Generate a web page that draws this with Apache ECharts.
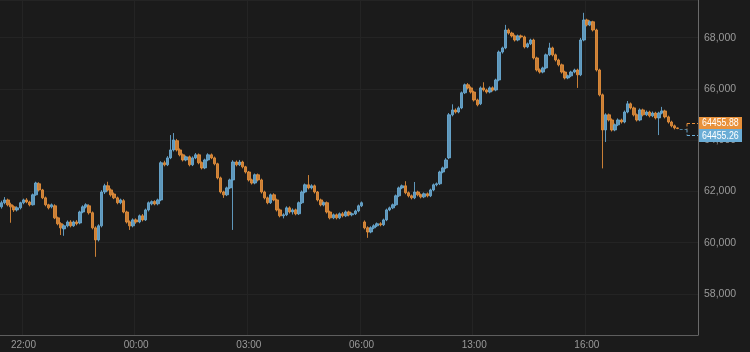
<!DOCTYPE html>
<html>
<head>
<meta charset="utf-8">
<style>
  html, body { margin: 0; padding: 0; background: #1b1b1b; }
  #main { width: 750px; height: 352px; }
</style>
<script src="https://cdn.jsdelivr.net/npm/echarts@6/dist/echarts.min.js"></script>
</head>
<body>
<div id="main"></div>
<script>
// x axis labels and the candle index they sit on
var tickLabels = ['22:00', '00:00', '03:00', '06:00', '13:00', '16:00'];
var tickIndex = [7, 43, 79, 115, 151, 187];
var slotCount = 223; // a few empty slots after the last candle

// [open, close, low, high]
var candles = [
  [61400,61560,61330,61640],[61560,61670,61500,61780],[61670,61480,61420,61720],[61480,61400,60780,61560],
  [61400,61280,61200,61460],[61280,61360,61220,61420],[61360,61560,61300,61600],[61560,61670,61500,61720],
  [61670,61590,61540,61740],[61590,61480,61420,61640],[61480,61870,61450,61920],[61870,62330,61830,62380],
  [62300,62060,62000,62360],[62060,61750,61700,62100],[61750,61480,61420,61800],[61480,61360,61300,61520],
  [61400,61480,61340,61530],[61440,60970,60920,61500],[60970,60740,60680,61020],[60740,60580,60300,60800],
  [60540,60660,60270,60720],[60660,60810,60600,60870],[60810,60660,60600,60880],[60660,60810,60620,60860],
  [60810,60740,60680,60880],[60770,61200,60720,61250],[61200,61400,61150,61460],[61400,61480,61340,61540],
  [61440,61170,61100,61500],[61170,60580,60520,61220],[60580,60110,59450,60640],[60110,60660,60050,60720],
  [60660,61980,60600,62050],[61980,62220,61900,62300],[62220,62060,62000,62380],[62060,61870,61800,62120],
  [61900,61750,61700,61960],[61750,61560,61500,61800],[61560,61670,61500,61720],[61640,61200,61150,61700],
  [61200,60810,60750,61250],[60810,60660,60500,60870],[60660,60890,60600,60950],[60890,60810,60740,60950],
  [60810,61050,60760,61100],[61050,60890,60830,61120],[60890,61280,60850,61330],[61280,61560,61220,61610],
  [61520,61600,61460,61650],[61600,61520,61460,61660],[61520,61670,61460,61720],[61670,63120,61620,63180],
  [63120,63040,62980,63200],[63040,63310,62990,63380],[63310,63620,63260,64200],[63620,64010,63560,64280],
  [63980,63620,63560,64050],[63620,63430,63370,63680],[63430,63230,63170,63480],[63230,63350,63180,63400],
  [63350,63040,62980,63400],[63040,63310,62990,63370],[63310,63430,63260,63500],[63430,63120,63060,63480],
  [63120,62920,62860,63170],[62920,63230,62870,63280],[63230,63430,63180,63490],[63430,63310,63260,63480],
  [63310,63080,63020,63360],[63080,62530,62470,63120],[62530,61980,61920,62580],[61980,61870,61750,62030],
  [61870,62140,61820,62190],[62140,62450,62090,62500],[62450,63150,60500,63220],[63150,63040,62980,63210],
  [63040,63150,62990,63230],[63150,62960,62900,63200],[62960,62760,62700,63000],[62760,62450,62390,62800],
  [62450,62330,62270,62500],[62330,62650,62280,62700],[62650,62450,62390,62700],[62450,61980,61920,62500],
  [61980,61750,61690,62030],[61750,61560,61500,61800],[61560,61870,61510,61920],[61870,61670,61620,61930],
  [61670,61280,61220,61720],[61280,61050,60990,61330],[61050,61090,60950,61150],[61090,61360,61040,61420],
  [61360,61200,61140,61420],[61200,61280,61100,61340],[61280,61130,61070,61330],[61130,61560,61080,61610],
  [61560,61980,61510,62040],[61980,62260,61930,62310],[62260,62140,62080,62640],[62140,62220,62080,62280],
  [62220,61980,61920,62270],[61980,61670,61610,62020],[61670,61480,61420,61720],[61480,61560,61420,61610],
  [61560,61200,61140,61610],[61200,60970,60910,61250],[60970,61090,60920,61140],[61090,60970,60910,61140],
  [60970,61130,60920,61180],[61130,61050,60990,61200],[61050,61200,61000,61260],[61200,61090,61030,61250],
  [61090,61130,61030,61180],[61130,61240,61080,61290],[61240,61440,61190,61490],[61440,61560,61390,61610],
  [60810,60580,60520,60870],[60580,60420,60190,60640],[60420,60580,60370,60640],[60580,60660,60530,60720],
  [60660,60740,60610,60790],[60740,60700,60640,60800],[60700,60890,60650,60940],[60890,61280,60840,61330],
  [61280,61360,61230,61410],[61360,61480,61310,61530],[61480,61830,61430,61880],[61830,62140,61780,62190],
  [62140,62220,62090,62270],[62220,61950,61890,62400],[61950,61830,61770,62000],[61830,61750,61690,61880],
  [61750,61980,61700,62370],[61980,61870,61810,62030],[61870,61790,61730,61920],[61790,61910,61740,61960],
  [61910,61830,61770,61960],[61830,62060,61780,62110],[62060,62260,62010,62310],[62260,62300,62200,62350],
  [62300,62760,62250,62810],[62760,62920,62710,62970],[62920,63230,62870,63300],[63310,64990,63260,65060],
  [64990,65180,64930,65400],[65180,65100,65040,65240],[65100,65260,65050,65320],[65260,65850,65210,65900],
  [65850,66160,65800,66210],[66160,66040,65980,66230],[66040,65880,65820,66100],[65880,65570,65510,65930],
  [65570,65380,65320,65620],[65420,66040,65370,66100],[66040,65960,65900,66260],[65960,65880,65820,66010],
  [65880,66040,65830,66100],[66040,65960,65900,66100],[65960,66350,65910,66400],[66350,67440,66300,67500],
  [67440,67600,67380,67650],[67600,68300,67550,68500],[68300,68180,68120,68360],[68180,68070,68010,68230],
  [68070,67910,67850,68120],[67910,68070,67860,68120],[68070,68030,67970,68120],[68030,67640,67580,68080],
  [67640,67760,67590,67810],[67760,67910,67710,67960],[67910,67210,67150,67960],[67210,66740,66680,67260],
  [66740,66660,66600,66800],[66660,66820,66610,66870],[66820,67330,66770,67380],[67330,67600,67280,67800],
  [67600,67330,67270,67650],[67330,67130,67070,67380],[67130,66940,66880,67180],[66940,66660,66600,66990],
  [66660,66430,66370,66710],[66430,66510,66380,66560],[66510,66660,66460,66710],[66660,66740,66610,66790],
  [66740,66550,66040,66790],[66550,67910,66500,67990],[67910,68690,67860,68970],[68690,68500,68440,68740],
  [68500,68620,68450,68680],[68620,68300,68240,68660],[68300,66740,66680,68350],[66740,65770,65710,66790],
  [65770,64400,62900,65820],[64400,64990,63930,65050],[64990,64790,64730,65040],[64790,64400,64340,64850],
  [64400,64600,64350,64650],[64600,64790,64550,64850],[64790,64710,64650,64840],[64710,65100,64660,65160],
  [65100,65420,65050,65530],[65420,65260,65200,65470],[65260,64990,64930,65310],[64990,64790,64730,65040],
  [64790,65180,64740,65240],[65180,64990,64930,65230],[64990,65100,64940,65160],[65100,64950,64890,65150],
  [64950,65060,64900,65120],[65060,64870,64810,65110],[64870,65060,64200,65110],[65060,65140,65010,65300],
  [65140,64910,64850,65190],[64910,64710,64650,64960],[64710,64560,64500,64760],[64560,64480,64420,64610],
  [64480,64455.88,64430,64500]
];

var askPrice = 64455.88;
var bidPrice = 64455.26;

var categories = [];
for (var i = 0; i < slotCount; i++) categories.push(String(i));

var orange = '#e8913b';
var blue = '#6badd6';
var font = '"Liberation Sans", Arial, sans-serif';

var chart = echarts.init(document.getElementById('main'), null, { renderer: 'canvas' });

function isTick(idx) { return tickIndex.indexOf(idx) >= 0; }

var option = {
  backgroundColor: '#1b1b1b',
  animation: false,
  grid: { left: 0, right: 52, top: 0, bottom: 17 },
  xAxis: {
    type: 'category',
    data: categories,
    boundaryGap: true,
    axisLine: { show: true, lineStyle: { color: '#5e5e5e' } },
    axisTick: { show: false },
    axisLabel: {
      interval: function (idx) { return isTick(idx); },
      formatter: function (v, idx) { return tickLabels[tickIndex.indexOf(idx)] || ''; },
      color: '#9a9a9a',
      fontSize: 10,
      fontFamily: font,
      margin: 5
    },
    splitLine: {
      show: true,
      interval: function (idx) { return isTick(idx); },
      lineStyle: { color: '#242424' }
    }
  },
  yAxis: {
    type: 'value',
    position: 'right',
    min: 56400,
    max: 69470,
    splitNumber: 6,
    axisLine: { show: true, lineStyle: { color: '#6a6a6a' } },
    axisTick: { show: false },
    axisLabel: {
      showMinLabel: false,
      showMaxLabel: false,
      color: '#9a9a9a',
      fontSize: 10.5,
      fontFamily: font,
      margin: 6,
      formatter: function (v) { return echarts.format.addCommas(v); }
    },
    splitLine: { show: true, lineStyle: { color: '#242424' } }
  },
  series: [
    {
      type: 'candlestick',
      data: candles,
      barWidth: 3,
      itemStyle: {
        color: blue, color0: orange,
        borderColor: blue, borderColor0: orange,
        borderWidth: 1, opacity: 0.85
      }
    },
    {
      type: 'custom',
      z: 10,
      data: [[candles.length - 1, askPrice]],
      renderItem: function (params, api) {
        var p = api.coord([api.value(0), api.value(1)]);
        var gx = params.coordSys.x + params.coordSys.width;
        var y = Math.round(p[1]) + 0.5;
        var bx = gx - 11;
        var dash = { lineDash: [3, 2], lineWidth: 1 };
        var labelFont = '11px ' + font;
        return {
          type: 'group',
          children: [
            { type: 'line', shape: { x1: p[0] + 2, y1: y, x2: bx, y2: y },
              style: Object.assign({ stroke: '#4f7f9c' }, dash) },
            { type: 'line', shape: { x1: bx, y1: y - 6, x2: bx, y2: y },
              style: Object.assign({ stroke: orange }, dash) },
            { type: 'line', shape: { x1: bx, y1: y, x2: bx, y2: y + 6 },
              style: Object.assign({ stroke: blue }, dash) },
            { type: 'line', shape: { x1: bx, y1: y - 6, x2: gx, y2: y - 6 },
              style: Object.assign({ stroke: orange }, dash) },
            { type: 'line', shape: { x1: bx, y1: y + 6, x2: gx, y2: y + 6 },
              style: Object.assign({ stroke: blue }, dash) },
            { type: 'rect', shape: { x: gx + 1, y: y - 12.5, width: 43, height: 12 },
              style: { fill: orange } },
            { type: 'rect', shape: { x: gx + 1, y: y - 0.5, width: 43, height: 13 },
              style: { fill: blue } },
            { type: 'text', x: gx + 4, y: y - 6.5, scaleX: 0.8,
              style: { text: askPrice.toFixed(2), fill: '#ffffff', font: labelFont, verticalAlign: 'middle' } },
            { type: 'text', x: gx + 4, y: y + 6, scaleX: 0.8,
              style: { text: bidPrice.toFixed(2), fill: '#ffffff', font: labelFont, verticalAlign: 'middle' } }
          ]
        };
      }
    }
  ]
};

chart.setOption(option);
</script>
</body>
</html>
